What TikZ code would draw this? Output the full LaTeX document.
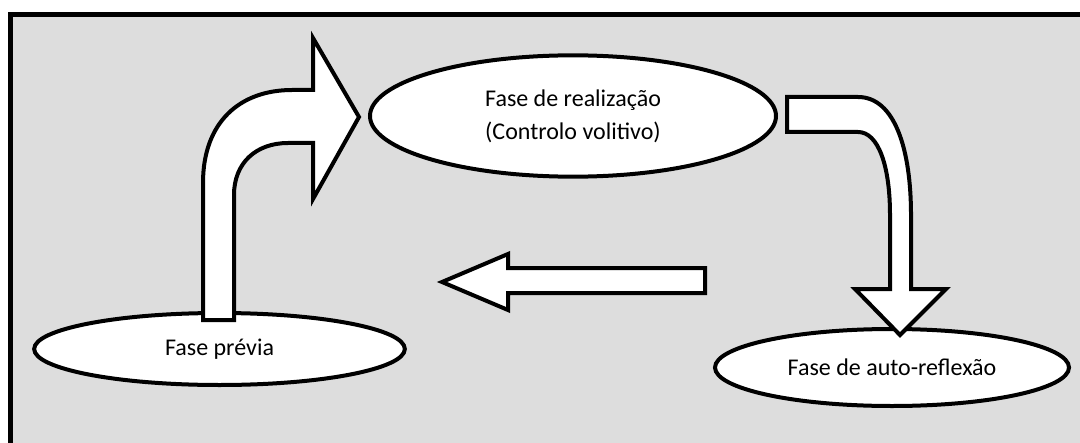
\documentclass[tikz,border=0pt]{standalone}
\usepackage{fontspec}
\setmainfont{Carlito}
\usetikzlibrary{shapes.geometric}
\definecolor{fundo}{RGB}{221,221,221}
\tikzset{
  fase/.style={ellipse, draw=black, fill=white, line width=3pt, inner sep=0pt,
    align=center, font=\fontsize{18}{25}\selectfont},
  setabloco/.style={draw=black, fill=white, line width=3pt, line join=miter}
}
\begin{document}
\begin{tikzpicture}[x=0.75pt,y=-0.75pt]
    \useasboundingbox (0,0) rectangle (1080,442);
    \clip (0,0) rectangle (1080,442);
    % moldura
    \draw[fill=fundo, line width=3.75pt] (10.5,14.5) rectangle (1100,470);
    % fases
    \node[fase, minimum width=278pt, minimum height=54pt] (previa) at (219.5,349) {Fase prévia};
    \node[fase, minimum width=304.5pt, minimum height=91pt] (realizacao) at (573,116)
      {Fase de realização\\(Controlo volitivo)};
    \node[fase, minimum width=265.5pt, minimum height=57.75pt] (reflexao) at (892,367.5)
      {Fase de auto-reflexão};
    % setas
    \draw[setabloco] (203,320) -- (203,183) .. controls (203,122) and (240,90) .. (292,90)
      -- (313,90) -- (313,38) -- (359,117) -- (313,199) -- (313,143) -- (288,143)
      .. controls (256,143) and (234,163) .. (234,195) -- (234,320) -- cycle;
    \draw[setabloco] (787,97) -- (858,97) .. controls (895,97) and (911,150) .. (911,215)
      -- (911,289) -- (946,289) -- (900,335) -- (855,289) -- (890,289) -- (890,215)
      .. controls (890,165) and (878,132) .. (858,132) -- (787,132) -- cycle;
    \draw[setabloco] (705,268) -- (705,293) -- (508,293) -- (508,310) -- (442,282)
      -- (508,254) -- (508,268) -- cycle;
\end{tikzpicture}
\end{document}
